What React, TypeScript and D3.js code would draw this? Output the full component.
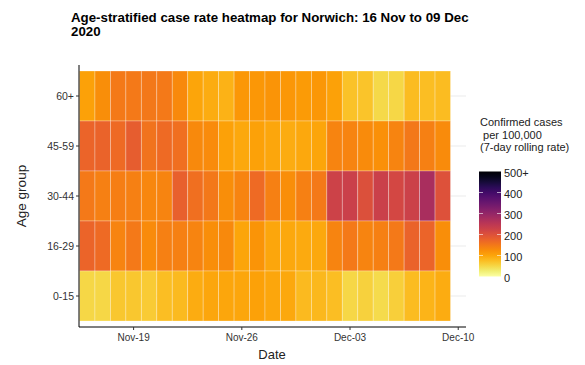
import React from "react";
import * as d3 from "d3";

const ageGroups = ["60+", "45-59", "30-44", "16-29", "0-15"];
const startDate = "2020-11-16";
const tickDates = ["2020-11-19", "2020-11-26", "2020-12-03", "2020-12-10"];
const legendTicks = [0, 100, 200, 300, 400, 500];

const rate60plus = [105, 125, 148, 148, 150, 148, 130, 100, 92, 87, 115, 115, 118, 115, 110, 115, 105, 72, 70, 48, 50, 78, 76, 78];
const rate45to59 = [172, 175, 165, 182, 155, 165, 160, 130, 128, 105, 97, 105, 98, 92, 97, 100, 135, 135, 128, 122, 135, 150, 140, 128];
const rate30to44 = [148, 140, 142, 140, 132, 135, 178, 160, 150, 125, 135, 165, 140, 125, 140, 148, 225, 230, 202, 230, 215, 228, 272, 200];
const rate16to29 = [172, 165, 135, 148, 128, 140, 140, 135, 125, 130, 100, 118, 98, 97, 95, 97, 135, 148, 135, 140, 148, 175, 172, 125];
const rate0to15 = [50, 50, 65, 66, 62, 75, 80, 92, 98, 98, 98, 105, 98, 96, 80, 82, 75, 50, 55, 45, 58, 78, 84, 92];

const seriesByGroup: Record<string, number[]> = {
  "60+": rate60plus,
  "45-59": rate45to59,
  "30-44": rate30to44,
  "16-29": rate16to29,
  "0-15": rate0to15,
};

const DAY = 86400000;

export default function App() {
  const start = new Date(startDate + "T00:00:00Z").getTime();
  const nDays = rate60plus.length;

  const x = d3
    .scaleUtc()
    .domain([new Date(start - DAY / 2), new Date(start + (nDays - 0.5) * DAY)])
    .range([79.5, 450.5]);
  const y = d3.scaleBand().domain(ageGroups).range([71, 321]).padding(0);
  const color = (v: number) => d3.interpolateInferno(1 - Math.min(v, 500) / 500);

  const cells: { date: Date; group: string; v: number }[] = [];
  ageGroups.forEach((g) => {
    seriesByGroup[g].forEach((v, i) => {
      cells.push({ date: new Date(start + i * DAY), group: g, v });
    });
  });

  const fmt = d3.utcFormat("%b-%d");
  const ticks = tickDates.map((d) => new Date(d + "T00:00:00Z"));

  const panelLeft = 79;
  const panelRight = 466;
  const panelTop = 65;
  const panelBottom = 327;

  const legY = d3.scaleLinear().domain([0, 500]).range([276.5, 171.5]);
  const gradStops = d3.range(0, 1.0001, 0.05);

  return (
    <svg width={585} height={365} style={{ position: "absolute", left: 0, top: 0, fontFamily: "Liberation Sans, Arial, sans-serif" }}>
      <rect x={0} y={0} width={585} height={365} fill="#ffffff" />
      <text x={71} y={21.5} fontSize={13.3} fontWeight="bold" fill="#000">
        Age-stratified case rate heatmap for Norwich: 16 Nov to 09 Dec
      </text>
      <text x={71} y={35.5} fontSize={13.3} fontWeight="bold" fill="#000">
        2020
      </text>

      {/* gridlines */}
      {ageGroups.map((g) => (
        <line
          key={"g" + g}
          x1={panelLeft}
          x2={panelRight}
          y1={(y(g) as number) + y.bandwidth() / 2}
          y2={(y(g) as number) + y.bandwidth() / 2}
          stroke="#ebebeb"
          strokeWidth={1}
        />
      ))}

      {/* tiles */}
      {cells.map((c, i) => {
        const x0 = x(new Date(c.date.getTime() - DAY / 2));
        const x1 = x(new Date(c.date.getTime() + DAY / 2));
        return (
          <rect
            key={i}
            x={x0}
            y={y(c.group) as number}
            width={x1 - x0}
            height={y.bandwidth()}
            fill={color(c.v)}
            stroke="#ffffff"
            strokeOpacity={0.35}
            strokeWidth={0.8}
          />
        );
      })}

      {/* axes */}
      <line x1={panelLeft} x2={panelLeft} y1={panelTop} y2={panelBottom} stroke="#000" strokeWidth={1} />
      <line x1={panelLeft} x2={panelRight} y1={panelBottom} y2={panelBottom} stroke="#000" strokeWidth={1} />
      {ageGroups.map((g) => {
        const yy = (y(g) as number) + y.bandwidth() / 2;
        return (
          <g key={"y" + g}>
            <line x1={panelLeft - 3} x2={panelLeft} y1={yy} y2={yy} stroke="#333" />
            <text x={panelLeft - 5} y={yy} dy="0.35em" textAnchor="end" fontSize={10.5} fill="#333">
              {g}
            </text>
          </g>
        );
      })}
      {ticks.map((t) => {
        const xx = x(t);
        return (
          <g key={"x" + t.getTime()}>
            <line x1={xx} x2={xx} y1={panelBottom} y2={panelBottom + 3} stroke="#333" />
            <text x={xx} y={panelBottom + 14} textAnchor="middle" fontSize={10} fill="#333">
              {fmt(t)}
            </text>
          </g>
        );
      })}
      <text x={272} y={359} textAnchor="middle" fontSize={13} fill="#222">
        Date
      </text>
      <text transform="translate(26,196) rotate(-90)" textAnchor="middle" fontSize={13.5} fill="#222">
        Age group
      </text>

      {/* legend */}
      <text x={480} y={126} fontSize={11} fill="#222">Confirmed cases</text>
      <text x={480} y={138.5} fontSize={11} fill="#222" xmlSpace="preserve">{" per 100,000"}</text>
      <text x={480} y={151} fontSize={11} fill="#222">(7-day rolling rate)</text>
      <defs>
        <linearGradient id="leg" x1="0" y1="1" x2="0" y2="0">
          {gradStops.map((s) => (
            <stop key={s} offset={s} stopColor={color(s * 500)} />
          ))}
        </linearGradient>
      </defs>
      <rect x={479} y={legY(500)} width={22} height={legY(0) - legY(500)} fill="url(#leg)" />
      {legendTicks.map((t) => (
        <g key={"l" + t}>
          {t > 0 && t < 500 && (
            <>
              <line x1={479} x2={483} y1={legY(t)} y2={legY(t)} stroke="#fff" strokeOpacity={0.6} />
              <line x1={497} x2={501} y1={legY(t)} y2={legY(t)} stroke="#fff" strokeOpacity={0.6} />
            </>
          )}
          <text x={504} y={legY(t) + 1.5} dy="0.35em" fontSize={11} fill="#222">
            {t === 500 ? "500+" : String(t)}
          </text>
        </g>
      ))}
    </svg>
  );
}
